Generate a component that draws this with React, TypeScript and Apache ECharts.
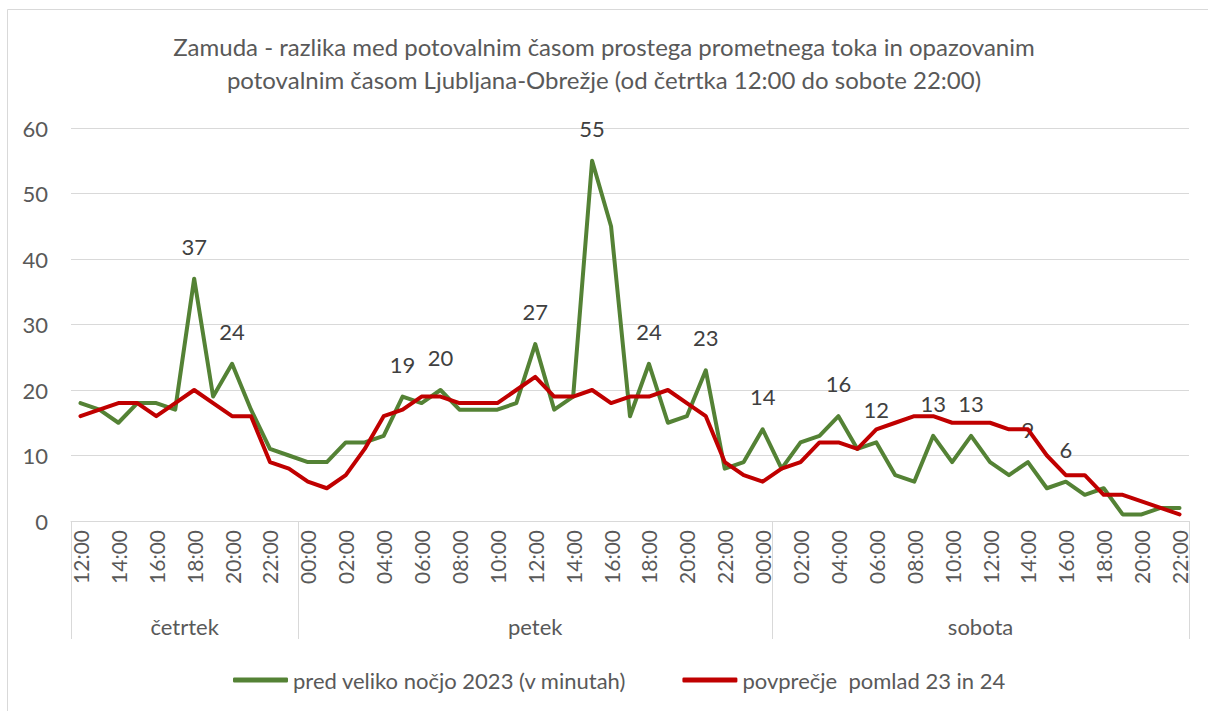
import React, { useEffect, useRef } from "react";
import * as echarts from "echarts";

const categories = [
  "12:00","13:00","14:00","15:00","16:00","17:00","18:00","19:00","20:00","21:00","22:00","23:00",
  "00:00","01:00","02:00","03:00","04:00","05:00","06:00","07:00","08:00","09:00","10:00","11:00",
  "12:00","13:00","14:00","15:00","16:00","17:00","18:00","19:00","20:00","21:00","22:00","23:00",
  "00:00","01:00","02:00","03:00","04:00","05:00","06:00","07:00","08:00","09:00","10:00","11:00",
  "12:00","13:00","14:00","15:00","16:00","17:00","18:00","19:00","20:00","21:00","22:00",
];

const greenValues = [
  18,17,15,18,18,17,37,19,24,17,
  11,10,9,9,12,12,13,19,18,20,
  17,17,17,18,27,17,19,55,45,16,
  24,15,16,23,8,9,14,8,12,13,
  16,11,12,7,6,13,9,13,9,7,
  9,5,6,4,5,1,1,2,2,
];

const redValues = [
  16,17,18,18,16,18,20,18,16,16,
  9,8,6,5,7,11,16,17,19,19,
  18,18,18,20,22,19,19,20,18,19,
  19,20,18,16,9,7,6,8,9,12,
  12,11,14,15,16,16,15,15,15,14,
  14,10,7,7,4,4,3,2,1,
];

const greenLabelIdx = [6, 8, 17, 19, 24, 27, 30, 33, 36, 40, 42, 45, 47, 50, 52];

const groupNames = ["četrtek", "petek", "sobota"];
const groupBounds = [0, 12, 37, 59];

const seriesNames = ["pred veliko nočjo 2023 (v minutah)", "povprečje  pomlad 23 in 24"];
const titleText =
  "Zamuda - razlika med potovalnim časom prostega prometnega toka in opazovanim\npotovalnim časom Ljubljana-Obrežje (od četrtka 12:00 do sobote 22:00)";

const FONT = "Lato";
const GRAY = "#595959";
const GRID = "#d9d9d9";
const GREEN = "#548235";
const RED = "#C00000";

export default function App() {
  const ref = useRef<HTMLDivElement>(null);
  useEffect(() => {
    if (!ref.current) return;
    const chart = echarts.init(ref.current, undefined, { renderer: "svg" });
    const groupCenters = groupNames.map((_, i) => (groupBounds[i] + groupBounds[i + 1]) / 2);
    const greenData = greenValues.map((v, i) =>
      greenLabelIdx.includes(i)
        ? { value: v, label: { show: true } }
        : { value: v }
    );
    chart.setOption({
      animation: false,
      backgroundColor: "#ffffff",
      textStyle: { fontFamily: FONT },
      title: {
        text: titleText,
        left: "center",
        top: 25,
        textStyle: {
          fontFamily: FONT,
          fontSize: 24,
          fontWeight: "normal",
          color: GRAY,
          lineHeight: 33,
        },
      },
      graphic: [
        {
          type: "rect",
          shape: { x: 7.5, y: 9.5, width: 1230, height: 740 },
          style: { fill: "none", stroke: GRID, lineWidth: 1 },
          silent: true,
          z: -1,
        },
      ],
      legend: {
        left: 228,
        top: 664,
        itemWidth: 55,
        itemHeight: 5,
        itemGap: 56,
        icon: "roundRect",
        textStyle: { fontFamily: FONT, fontSize: 22, color: GRAY },
        data: seriesNames,
      },
      grid: { left: 71, right: 19, top: 128, bottom: 190, containLabel: false },
      xAxis: [
        {
          type: "category",
          data: categories,
          boundaryGap: true,
          axisLine: { lineStyle: { color: GRID, width: 1 } },
          axisTick: { show: false },
          axisLabel: {
            rotate: 90,
            interval: 1,
            margin: 9,
            fontFamily: FONT,
            fontSize: 21,
            color: GRAY,
          },
        },
        {
          type: "value",
          position: "bottom",
          min: 0,
          max: 59,
          axisLine: { show: false },
          splitLine: { show: false },
          axisTick: {
            show: true,
            customValues: groupBounds,
            length: 118,
            lineStyle: { color: GRID, width: 1 },
          },
          axisLabel: {
            show: true,
            customValues: groupCenters,
            margin: 94,
            fontFamily: FONT,
            fontSize: 22,
            color: GRAY,
            formatter: (v: number) => {
              const k = groupCenters.indexOf(v);
              return k >= 0 ? groupNames[k] : "";
            },
          },
        },
      ],
      yAxis: {
        type: "value",
        min: 0,
        max: 60,
        interval: 10,
        axisLine: { show: false },
        axisTick: { show: false },
        splitLine: { lineStyle: { color: GRID, width: 1 } },
        axisLabel: { margin: 23, fontFamily: FONT, fontSize: 22, color: GRAY },
      },
      series: [
        {
          name: seriesNames[0],
          type: "line",
          data: greenData,
          symbol: "circle",
          symbolSize: 1,
          showSymbol: true,
          lineStyle: { color: GREEN, width: 4, join: "round", cap: "round" },
          itemStyle: { color: GREEN },
          emphasis: { disabled: true },
          label: {
            show: false,
            position: "top",
            distance: 21,
            fontFamily: FONT,
            fontSize: 22,
            color: "#404040",
          },
          z: 2,
        },
        {
          name: seriesNames[1],
          type: "line",
          data: redValues,
          symbol: "none",
          lineStyle: { color: RED, width: 4, join: "round", cap: "round" },
          itemStyle: { color: RED },
          emphasis: { disabled: true },
          z: 3,
        },
      ],
    });
    return () => chart.dispose();
  }, []);
  return (
    <div
      ref={ref}
      style={{ position: "fixed", left: 0, top: 0, width: 1208, height: 711 }}
    />
  );
}
